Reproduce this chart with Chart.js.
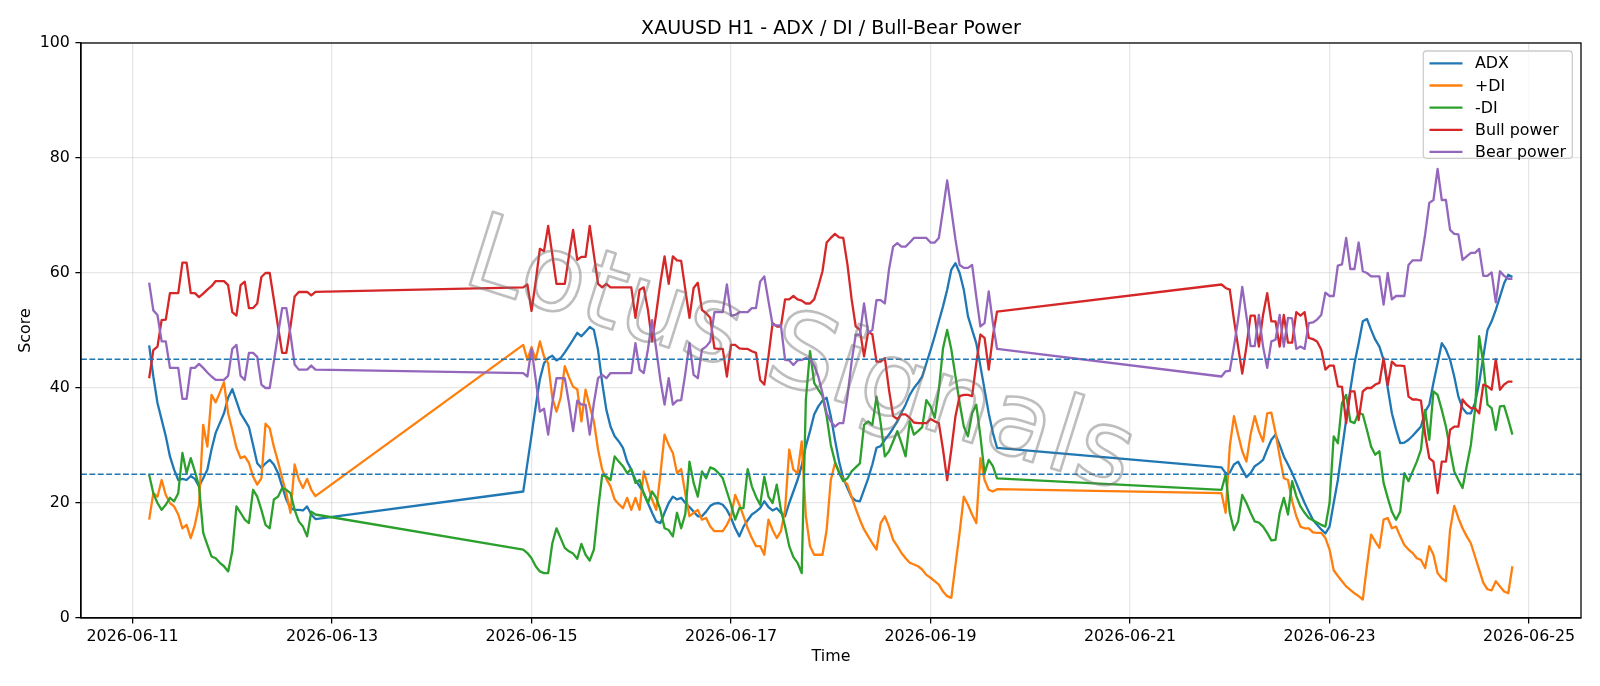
<!DOCTYPE html>
<html><head><meta charset="utf-8">
<script src="https://cdn.jsdelivr.net/npm/chart.js@4.4.1/dist/chart.umd.min.js"></script>
<style>html,body{margin:0;padding:0;background:#fff;}#wrap{width:1600px;height:686px;}</style>
</head><body><div id="wrap"><canvas id="c" width="1600" height="686"></canvas></div>
<script>
// hours since 2026-06-11 00:00
const hours = [4,5,6,7,8,9,10,11,12,13,14,15,16,17,18,19,20,21,22,23,24,25,26,27,28,29,30,31,32,33,34,35,36,37,38,39,40,41,42,43,44,
94,95,96,97,98,99,100,101,102,103,104,105,106,107,108,109,110,111,112,113,114,115,116,117,118,119,120,121,122,123,124,125,126,127,128,129,130,131,132,133,134,
135,136,137,138,139,140,141,142,143,144,145,146,147,148,149,150,151,152,153,154,155,156,157,158,159,160,161,162,163,164,165,166,167,168,169,170,171,172,173,174,
175,176,177,178,179,180,181,182,183,184,185,186,187,188,189,190,191,192,193,194,195,196,197,198,199,200,201,202,203,204,205,206,207,208,
262,263,264,265,266,267,268,269,270,271,272,273,274,275,276,277,278,279,280,281,282,283,284,285,286,287,288,289,290,291,292,293,294,295,296,297,298,299,300,301,
302,303,304,305,306,307,308,309,310,311,312,313,314,315,316,317,318,319,320,321,322,323,324,325,326,327,328,329,330,331,332];

const adx = [47.4,42.0,37.4,34.5,31.6,28.1,25.8,24.0,24.2,24.0,24.7,24.2,22.9,24.3,25.8,29.3,32.2,33.9,35.6,38.3,39.8,37.7,35.6,34.4,33.2,30.1,26.9,26.1,26.9,27.5,26.7,25.2,22.9,20.6,19.1,18.8,18.8,18.7,19.4,18.0,17.2,
22.0,26.9,31.8,36.8,41.5,44.3,45.2,45.6,44.8,45.2,46.2,47.3,48.4,49.6,49.0,49.8,50.6,50.1,46.6,40.9,36.2,33.3,31.6,30.7,29.6,27.2,25.8,24.0,22.9,21.7,20.0,18.3,16.8,16.5,18.3,20.0,21.1,20.6,20.9,20.0,19.3,
18.5,17.7,17.7,18.5,19.5,19.9,20.0,19.7,18.8,17.4,15.6,14.2,15.9,17.0,18.0,18.5,19.1,20.3,19.3,18.7,19.1,18.3,17.7,20.0,22.0,24.0,26.5,29.9,32.5,35.4,36.8,37.8,38.3,35.1,31.0,27.2,24.3,22.6,21.0,20.4,
20.3,22.3,24.3,26.7,29.6,29.9,31.0,31.9,33.0,34.2,35.7,37.1,38.8,40.0,40.9,42.0,44.3,46.6,49.0,51.6,54.2,57.1,60.6,61.7,60.0,57.1,52.5,50.1,47.8,43.8,39.7,35.6,32.2,29.6,
26.2,25.2,25.3,26.7,27.2,25.8,24.5,25.2,26.4,26.9,27.5,29.3,31.0,31.9,30.1,28.1,26.7,25.2,23.5,21.7,20.0,18.5,17.1,16.2,15.4,14.7,15.9,20.0,24.0,29.3,34.5,39.7,44.3,47.8,51.6,52.0,50.1,48.4,47.2,44.9,
40.0,35.6,32.8,30.4,30.5,31.0,31.7,32.5,33.3,35.9,37.1,40.9,44.3,47.8,46.7,44.9,42.0,38.5,36.5,35.6,35.6,37.4,40.9,45.5,50.1,51.6,53.6,55.9,58.2,59.7,59.3];

const plusDI = [17.1,21.7,21.1,24.0,21.4,20.0,19.4,18.0,15.6,16.2,13.9,16.2,19.7,33.6,29.8,38.8,37.5,39.2,41.0,35.6,32.7,29.6,27.8,28.1,27.0,24.6,23.2,24.3,33.8,33.0,29.8,27.2,24.3,21.7,18.3,26.7,24.1,22.6,24.2,22.3,21.2,
47.5,44.9,47.1,44.9,48.1,45.5,44.3,38.3,35.9,38.3,43.8,41.9,40.2,39.8,34.2,39.7,36.8,34.2,29.3,25.8,24.2,22.9,20.6,19.8,19.1,20.9,18.8,20.9,18.8,25.5,23.0,20.6,18.8,25.0,31.9,30.1,28.7,25.2,25.9,21.6,17.7,
18.3,18.8,17.1,17.4,15.9,15.1,15.1,15.1,16.2,17.7,21.4,19.7,17.7,15.6,13.9,12.5,12.5,11.0,17.1,15.3,13.9,15.1,18.8,29.3,25.8,25.2,30.7,17.7,12.5,11.0,11.0,11.0,15.3,24.0,26.9,25.5,24.0,23.2,21.1,19.0,
17.1,15.4,14.2,13.0,11.9,16.5,17.7,15.9,13.6,12.5,11.3,10.4,9.6,9.3,9.0,8.4,7.5,7.0,6.4,5.8,4.6,3.8,3.5,9.2,14.9,21.1,19.7,18.0,16.5,27.8,24.0,22.3,22.0,22.4,
21.7,18.3,29.9,35.1,31.9,29.0,27.2,31.9,35.1,32.5,30.7,35.6,35.7,32.2,28.1,24.3,24.0,20.3,17.7,15.9,15.6,15.6,14.9,14.8,14.8,13.9,11.9,8.3,7.3,6.4,5.5,4.9,4.3,3.8,3.2,9.0,14.5,13.3,12.2,17.1,
17.4,15.6,15.9,14.2,12.7,11.9,11.3,10.4,10.1,8.7,12.5,11.0,7.8,6.9,6.4,15.3,19.5,17.4,15.6,14.2,13.0,10.7,8.4,6.1,5.0,4.8,6.4,5.5,4.6,4.3,9.0];

const minusDI = [24.9,21.7,20.0,18.8,19.7,20.9,20.3,21.7,28.7,25.2,27.8,25.5,22.9,14.8,12.7,10.7,10.4,9.6,9.0,8.1,11.6,19.4,18.3,17.1,16.5,22.3,21.1,18.8,16.2,15.6,20.6,21.1,22.6,22.3,21.7,18.8,16.8,15.9,14.2,18.5,18.0,
11.9,11.3,10.4,9.0,8.1,7.8,7.8,13.0,15.6,13.9,12.2,11.6,11.2,10.3,12.9,11.0,10.0,11.9,18.8,24.9,24.6,24.0,28.1,27.2,26.4,25.2,25.9,23.5,24.0,21.7,20.0,22.0,20.9,18.8,15.6,15.3,14.2,18.3,15.6,18.1,27.2,
23.5,21.1,25.5,24.3,26.2,25.9,25.2,24.3,22.0,19.7,17.1,19.1,19.1,25.9,22.9,21.1,19.7,24.6,21.1,20.0,23.2,18.8,15.9,12.5,10.6,9.6,7.8,38.0,46.4,40.9,39.7,38.6,35.1,30.1,27.2,25.2,23.8,24.3,25.5,26.2,
26.9,33.6,34.2,33.6,38.5,33.9,28.1,29.0,30.7,32.5,30.4,28.1,34.2,31.9,32.5,33.2,37.9,36.8,34.8,39.7,46.9,50.1,46.7,42.0,37.4,33.3,31.6,35.6,37.1,31.6,25.2,27.5,26.4,24.3,
22.3,24.9,18.3,15.3,16.8,21.4,20.0,18.3,16.8,16.6,15.9,14.8,13.5,13.6,18.3,20.9,18.0,23.8,21.2,19.4,18.3,17.4,17.0,16.6,16.2,15.9,20.0,31.6,30.4,37.4,38.8,34.2,33.9,35.7,35.4,32.7,29.8,28.4,29.0,23.5,
20.9,18.5,17.1,18.5,25.2,23.8,25.5,27.2,29.3,36.2,31.0,39.4,38.8,36.2,33.3,29.3,25.5,24.0,22.6,26.4,30.1,36.2,49.0,44.3,37.1,36.5,32.7,36.8,36.9,34.5,31.9];

const bullPower = [41.7,46.6,47.2,51.8,51.9,56.5,56.5,56.5,61.8,61.8,56.5,56.5,55.8,56.4,57.1,57.7,58.6,58.6,58.6,57.9,53.2,52.6,57.9,58.5,53.9,53.9,54.7,59.3,60.0,60.0,55.4,50.7,46.1,46.1,50.7,55.9,56.7,56.7,56.7,56.1,56.7,
57.5,58.0,53.4,58.5,64.2,63.8,68.2,63.2,58.1,58.1,58.1,63.0,67.5,62.3,62.8,62.8,68.2,63.2,58.1,57.5,58.1,57.5,57.5,57.5,57.5,57.5,57.5,52.2,57.1,57.5,53.6,48.1,53.0,58.3,62.9,58.1,62.9,62.2,62.1,57.1,52.2,
57.4,58.3,53.6,53.0,52.2,46.9,46.8,46.8,42.0,47.5,47.5,46.9,46.8,46.8,46.4,46.1,41.4,40.6,45.5,51.3,50.7,50.7,55.4,55.4,56.0,55.4,55.2,54.7,54.7,55.4,57.7,60.3,65.3,66.1,66.8,66.2,66.1,61.5,55.5,50.7,
50.1,45.5,49.8,49.3,44.6,44.6,45.2,39.7,35.1,34.6,35.4,35.4,34.8,34.0,33.9,33.9,33.9,34.6,34.2,33.9,29.3,24.0,29.3,35.1,38.6,38.8,38.8,38.6,44.3,49.3,48.7,43.2,49.0,53.3,
58.0,57.4,57.1,51.9,47.2,42.5,47.2,52.6,52.6,47.2,52.7,56.5,51.6,51.6,47.2,52.7,47.9,47.9,53.2,52.6,53.2,48.7,48.5,48.1,46.7,43.2,43.9,43.9,40.3,40.2,33.9,39.4,39.4,34.4,39.4,40.0,40.0,40.6,40.9,45.2,
40.5,44.6,43.9,43.9,43.8,38.5,38.0,38.0,37.8,31.9,27.8,27.2,21.7,27.2,27.2,32.7,33.3,33.3,38.0,37.1,36.5,36.5,35.6,40.6,40.3,39.7,45.0,39.7,40.6,41.1,41.1];

const bearPower = [58.3,53.5,52.7,48.1,48.1,43.5,43.5,43.5,38.1,38.1,43.5,43.5,44.2,43.5,42.7,42.0,41.4,41.4,41.4,42.1,46.8,47.5,42.1,41.4,46.1,46.1,45.4,40.6,40.0,40.0,44.6,49.3,53.9,53.9,49.3,44.1,43.2,43.2,43.2,43.9,43.2,
42.6,42.0,46.8,41.5,35.9,36.4,31.9,37.4,41.7,41.7,41.7,37.4,32.5,37.8,37.1,37.1,31.9,37.4,41.7,42.3,41.7,42.6,42.6,42.6,42.6,42.6,42.6,47.8,43.2,42.6,46.7,51.8,46.7,41.4,37.1,41.7,37.1,37.8,37.9,42.5,47.8,
42.3,41.7,46.7,47.2,48.1,53.2,53.2,53.2,58.0,52.6,52.7,53.2,53.2,53.2,53.9,53.9,58.5,59.4,55.1,51.0,50.9,50.9,44.9,44.8,44.0,44.8,44.9,45.2,45.0,43.9,42.0,39.1,35.6,34.2,33.3,33.9,33.9,38.5,44.5,49.3,
49.3,54.7,49.6,50.1,55.3,55.3,54.7,60.6,64.6,65.2,64.6,64.6,65.3,66.1,66.1,66.1,66.1,65.3,65.3,66.1,71.0,76.1,71.0,65.8,61.4,60.9,60.9,61.4,55.9,50.7,51.3,56.8,51.3,46.8,
42.0,42.9,43.0,47.2,51.9,57.6,52.5,47.3,47.3,52.7,47.2,43.5,48.1,48.4,52.7,47.2,52.2,52.1,46.8,47.2,46.8,51.3,51.4,51.9,52.7,56.6,56.0,56.0,61.3,61.5,66.1,60.7,60.7,65.3,60.3,60.0,59.4,59.4,59.4,54.5,
60.0,55.4,56.0,56.0,56.0,61.4,62.2,62.2,62.2,66.7,72.2,72.7,78.1,72.7,72.7,67.5,66.8,66.7,62.3,62.9,63.5,63.5,64.2,59.5,59.5,60.1,54.9,60.3,59.5,59.0,59.0];

const refLevels = [45, 25];
const xTickHours = [0, 48, 96, 144, 192, 240, 288, 336];
const yTicks = [0, 20, 40, 60, 80, 100];
const TITLE = 'XAUUSD H1 - ADX / DI / Bull-Bear Power';
const X_LABEL = 'Time';
const Y_LABEL = 'Score';
const WATERMARK = 'Lotus Signals';
const X_MIN = -12.4, X_MAX = 348.5;

const FAM = '"DejaVu Sans", sans-serif';
const FS = 15.87;
const pad = n => String(n).padStart(2, '0');
function fmtDate(h) {
  const d = new Date(Date.UTC(2026, 5, 11) + h * 3600000);
  return d.getUTCFullYear() + '-' + pad(d.getUTCMonth() + 1) + '-' + pad(d.getUTCDate());
}
const pts = arr => hours.map((h, i) => ({x: h, y: arr[i]}));
const series = (label, arr, color, order) => ({label, data: pts(arr), borderColor: color, backgroundColor: color,
  borderWidth: 2.3, pointRadius: 0, tension: 0, order, borderJoinStyle: 'round', borderCapStyle: 'butt', fill: false});
const hline = (v, order) => ({label: '_ref' + v, data: [{x: X_MIN, y: v}, {x: X_MAX, y: v}], borderColor: '#1f77b4',
  borderWidth: 1.6, borderDash: [5.9, 2.5], pointRadius: 0, order, fill: false});

const datasets = [
  series('ADX', adx, '#1f77b4', 10),
  series('+DI', plusDI, '#ff7f0e', 9),
  series('-DI', minusDI, '#2ca02c', 8),
  series('Bull power', bullPower, '#d62728', 7),
  series('Bear power', bearPower, '#9467bd', 6),
  hline(refLevels[0], 2),
  hline(refLevels[1], 1)
];

const deco = {
  id: 'deco',
  afterDatasetsDraw(chart) {
    const {ctx} = chart;
    ctx.save();
    ctx.translate(799, 360);
    ctx.rotate(17.5 * Math.PI / 180);
    ctx.font = '105px ' + FAM;
    ctx.textAlign = 'center';
    ctx.textBaseline = 'middle';
    ctx.lineJoin = 'round';
    ctx.lineWidth = 2.6;
    ctx.strokeStyle = 'rgba(110,110,110,0.45)';
    ctx.strokeText(WATERMARK, 0, 0);
    ctx.restore();
  },
  afterDraw(chart) {
    const {ctx, chartArea: a} = chart;
    ctx.save();
    ctx.strokeStyle = '#000';
    ctx.lineWidth = 1.27;
    ctx.strokeRect(a.left, a.top, a.right - a.left, a.bottom - a.top);
    ctx.fillStyle = '#000';
    ctx.textAlign = 'center';
    ctx.font = '19.05px ' + FAM;
    ctx.textBaseline = 'alphabetic';
    ctx.fillText(TITLE, (a.left + a.right) / 2, 33.8);
    ctx.font = FS + 'px ' + FAM;
    ctx.textBaseline = 'middle';
    ctx.fillText(X_LABEL, (a.left + a.right) / 2, 657);
    ctx.save();
    ctx.translate(25.5, (a.top + a.bottom) / 2);
    ctx.rotate(-Math.PI / 2);
    ctx.fillText(Y_LABEL, 0, 0);
    ctx.restore();
    // legend
    const lx = 1423.3, ly = 51, lw = 149, lh = 107.3, r = 3.2;
    ctx.beginPath();
    ctx.moveTo(lx + r, ly); ctx.lineTo(lx + lw - r, ly); ctx.quadraticCurveTo(lx + lw, ly, lx + lw, ly + r);
    ctx.lineTo(lx + lw, ly + lh - r); ctx.quadraticCurveTo(lx + lw, ly + lh, lx + lw - r, ly + lh);
    ctx.lineTo(lx + r, ly + lh); ctx.quadraticCurveTo(lx, ly + lh, lx, ly + lh - r);
    ctx.lineTo(lx, ly + r); ctx.quadraticCurveTo(lx, ly, lx + r, ly);
    ctx.closePath();
    ctx.fillStyle = 'rgba(255,255,255,0.8)';
    ctx.fill();
    ctx.strokeStyle = '#cccccc';
    ctx.lineWidth = 1.27;
    ctx.stroke();
    const rows = [63.3, 85.5, 107.6, 129.8, 151.8];
    chart.data.datasets.slice(0, 5).forEach((ds, i) => {
      ctx.strokeStyle = ds.borderColor;
      ctx.lineWidth = 2.3;
      ctx.beginPath();
      ctx.moveTo(1429.5, rows[i]); ctx.lineTo(1462.5, rows[i]);
      ctx.stroke();
      ctx.fillStyle = '#000';
      ctx.textAlign = 'left';
      ctx.textBaseline = 'middle';
      ctx.font = FS + 'px ' + FAM;
      ctx.fillText(ds.label, 1475, rows[i] + 1);
    });
    ctx.restore();
  }
};

new Chart(document.getElementById('c').getContext('2d'), {
  type: 'line',
  data: {datasets},
  options: {
    responsive: false, animation: false, devicePixelRatio: 1,
    layout: {padding: {top: 43, right: 19, left: 0, bottom: 0}},
    plugins: {legend: {display: false}, title: {display: false}, tooltip: {enabled: false}},
    scales: {
      x: {
        type: 'linear', min: X_MIN, max: X_MAX,
        afterBuildTicks: s => { s.ticks = xTickHours.map(v => ({value: v})); },
        afterFit: s => { s.height = 68; },
        ticks: {font: {family: FAM, size: FS}, color: '#000', padding: 4, maxRotation: 0, autoSkip: false,
          callback: v => fmtDate(v)},
        grid: {color: 'rgba(176,176,176,0.3)', lineWidth: 1.27, tickColor: '#000', tickLength: 5.6, tickWidth: 1.27},
        border: {color: '#000', width: 1.27}
      },
      y: {
        min: 0, max: 100,
        afterBuildTicks: s => { s.ticks = yTicks.map(v => ({value: v})); },
        afterFit: s => { s.width = 81; },
        ticks: {font: {family: FAM, size: FS}, color: '#000', padding: 5.5},
        grid: {color: 'rgba(176,176,176,0.3)', lineWidth: 1.27, tickColor: '#000', tickLength: 5.6, tickWidth: 1.27},
        border: {color: '#000', width: 1.27}
      }
    }
  },
  plugins: [deco]
});
</script>
</body></html>
